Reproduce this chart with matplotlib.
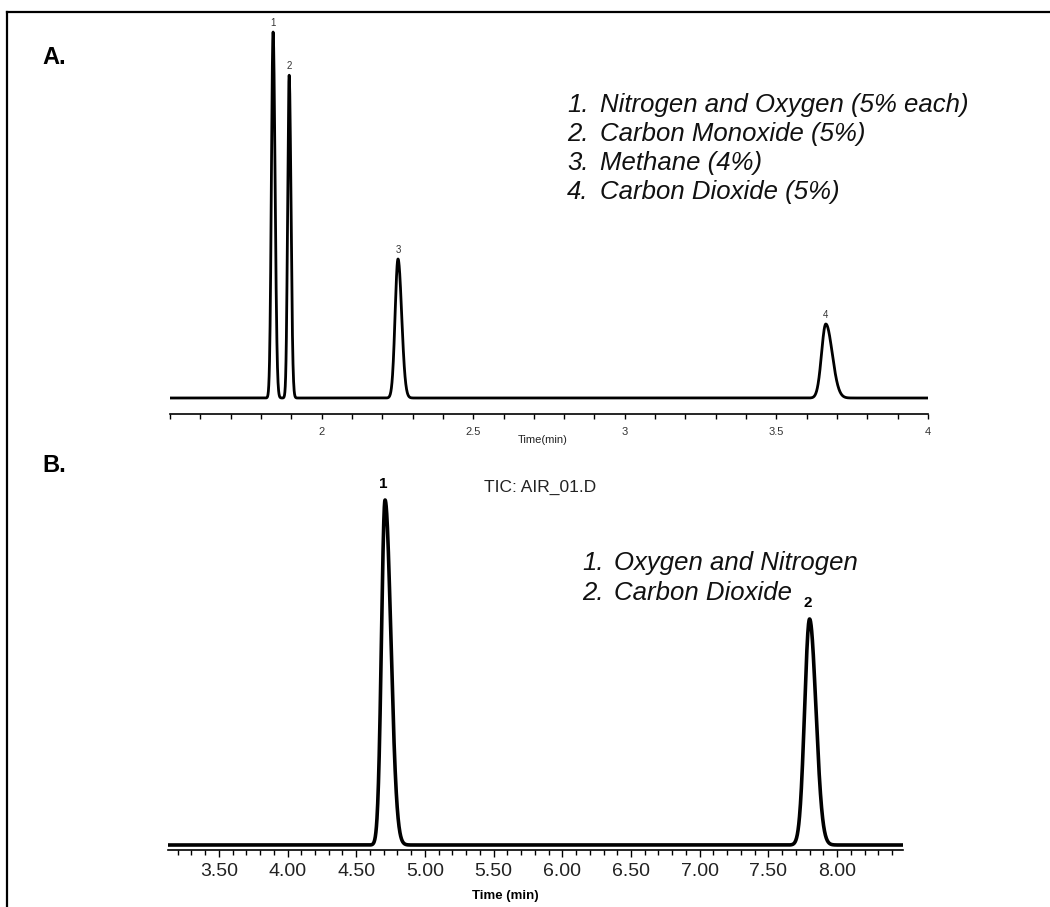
import numpy as np
import matplotlib
matplotlib.use("Agg")
import matplotlib.pyplot as plt
from matplotlib.lines import Line2D
from matplotlib.ticker import MultipleLocator

# ---------------- data ----------------
# Panel A (GC-TCD style chromatogram)
a_peak_labels = ["1", "2", "3", "4"]
a_times = [1.840, 1.893, 2.252, 3.663]          # retention time (min)
a_heights = [366, 323, 139, 74]                 # relative response
a_sigma_left = [0.0055, 0.0050, 0.0095, 0.0140]
a_sigma_right = [0.0065, 0.0060, 0.0120, 0.0210]
a_xticks = [2, 2.5, 3, 3.5, 4]
a_xticklabels = ["2", "2.5", "3", "3.5", "4"]
a_legend_nums = ["1.", "2.", "3.", "4."]
a_legend = ["Nitrogen and Oxygen (5% each)", "Carbon Monoxide (5%)",
            "Methane (4%)", "Carbon Dioxide (5%)"]

# Panel B (TIC chromatogram)
b_peak_labels = ["1", "2"]
b_times = [4.71, 7.80]
b_heights = [345, 226]
b_sigma_left = [0.026, 0.036]
b_sigma_right = [0.042, 0.046]
b_xticks = [3.50, 4.00, 4.50, 5.00, 5.50, 6.00, 6.50, 7.00, 7.50, 8.00]
b_xticklabels = ["3.50", "4.00", "4.50", "5.00", "5.50", "6.00",
                 "6.50", "7.00", "7.50", "8.00"]
b_legend_nums = ["1.", "2."]
b_legend = ["Oxygen and Nitrogen", "Carbon Dioxide"]

# ---------------- helpers ----------------
W, H = 1050, 907
fig = plt.figure(figsize=(W / 100, H / 100), dpi=100)
fig.patch.set_facecolor("white")
SANS = ["Liberation Sans", "DejaVu Sans"]


def fx(px):
    return px / W


def fy(py):
    return 1 - py / H


def trace(t, times, heights, sl, sr):
    y = np.zeros_like(t)
    for t0, h, s1, s2 in zip(times, heights, sl, sr):
        s = np.where(t < t0, s1, s2)
        y += h * np.exp(-0.5 * ((t - t0) / s) ** 2)
    return y


# frame lines
fig.add_artist(Line2D([fx(7), fx(1050)], [fy(12), fy(12)], color="black", lw=1.6))
fig.add_artist(Line2D([fx(7), fx(7)], [fy(12), fy(907)], color="black", lw=1.6))

# ---------------- Panel A ----------------
axA_l, axA_r, axA_b, axA_t = 170, 928, 414, 20
axA = fig.add_axes([fx(axA_l), fy(axA_b), fx(axA_r - axA_l), (axA_b - axA_t) / H])
tA = np.linspace(1.5, 4.0, 4000)
yA = trace(tA, a_times, a_heights, a_sigma_left, a_sigma_right)
axA.plot(tA, yA, color="black", lw=2.0)
axA.set_xlim(1.5, 4.0)
axA.set_ylim(-16, axA_b - axA_t - 16)
for s in ["top", "right", "left"]:
    axA.spines[s].set_visible(False)
axA.spines["bottom"].set_linewidth(1.2)
axA.set_yticks([])
axA.set_xticks(a_xticks)
axA.set_xticklabels(a_xticklabels)
axA.xaxis.set_minor_locator(MultipleLocator(0.1))
axA.tick_params(axis="x", which="both", direction="out", length=3.5, width=1.0,
                labelsize=8, labelcolor="#333333", pad=6)
for lab in axA.get_xticklabels():
    lab.set_fontfamily(SANS)
fig.text(fx(543), fy(440), "Time(min)", fontsize=8, color="#222222",
         ha="center", va="center", fontfamily=SANS)
for lab, t0, h in zip(a_peak_labels, a_times, a_heights):
    axA.text(t0, h + 9, lab, ha="center", va="center", fontsize=7,
             color="#333333", fontfamily=SANS)
axA.patch.set_alpha(0)

# legend A
legA_y = [105, 134, 163, 192]
for num, txt, yy in zip(a_legend_nums, a_legend, legA_y):
    fig.text(fx(567), fy(yy), num, fontsize=18.5, style="italic", va="center",
             ha="left", fontfamily=SANS, color="#111111")
    fig.text(fx(600), fy(yy), txt, fontsize=18.5, style="italic", va="center",
             ha="left", fontfamily=SANS, color="#111111")

fig.text(fx(42), fy(58), "A.", fontsize=17, weight="bold", va="center", ha="left",
         fontfamily=SANS)

# ---------------- Panel B ----------------
axB_l, axB_r, axB_b, axB_t = 168, 903, 850, 440
axB = fig.add_axes([fx(axB_l), fy(axB_b), fx(axB_r - axB_l), (axB_b - axB_t) / H])
tB = np.linspace(3.13, 8.48, 4000)
yB = trace(tB, b_times, b_heights, b_sigma_left, b_sigma_right)
axB.plot(tB, yB, color="black", lw=2.6)
axB.set_xlim(3.13, 8.48)
axB.set_ylim(-5, axB_b - axB_t - 5)
for s in ["top", "right", "left"]:
    axB.spines[s].set_visible(False)
axB.spines["bottom"].set_linewidth(1.2)
axB.set_yticks([])
axB.set_xticks(b_xticks)
axB.set_xticklabels(b_xticklabels)
axB.xaxis.set_minor_locator(MultipleLocator(0.1))
axB.tick_params(axis="x", which="major", direction="out", length=5, width=1.0,
                labelsize=14, labelcolor="#222222", pad=4)
axB.tick_params(axis="x", which="minor", direction="out", length=3.5, width=1.0)
for lab in axB.get_xticklabels():
    lab.set_fontfamily(SANS)
for lab, t0, h in zip(b_peak_labels, b_times, b_heights):
    axB.text(t0 - 0.01, h + 16, lab, ha="center", va="center", fontsize=11,
             weight="bold", color="black", fontfamily=SANS)
axB.patch.set_alpha(0)

fig.text(fx(505), fy(896), "Time (min)", fontsize=9.5, weight="bold", ha="center",
         va="center", fontfamily=SANS)
fig.text(fx(540), fy(487), "TIC: AIR_01.D", fontsize=12.5, ha="center", va="center",
         fontfamily=SANS, color="#222222")

legB_y = [563, 593]
for num, txt, yy in zip(b_legend_nums, b_legend, legB_y):
    fig.text(fx(582), fy(yy), num, fontsize=18.5, style="italic", va="center",
             ha="left", fontfamily=SANS, color="#111111")
    fig.text(fx(614), fy(yy), txt, fontsize=18.5, style="italic", va="center",
             ha="left", fontfamily=SANS, color="#111111")

fig.text(fx(42), fy(466), "B.", fontsize=17, weight="bold", va="center", ha="left",
         fontfamily=SANS)

fig.savefig("out.png", dpi=100)
